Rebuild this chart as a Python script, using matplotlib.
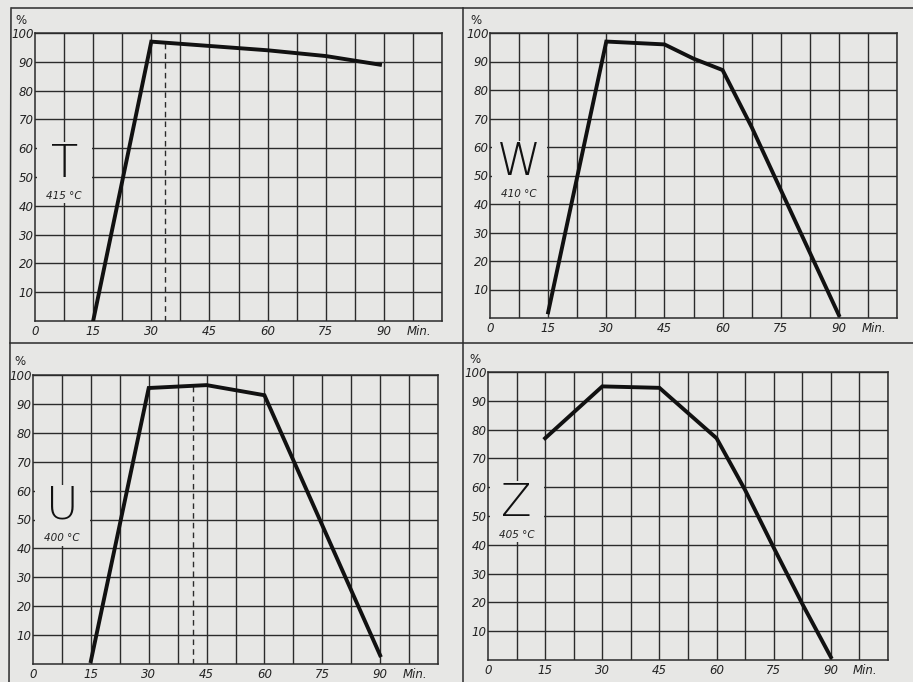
import numpy as np
import matplotlib.pyplot as plt
from matplotlib.patches import Rectangle
from matplotlib.lines import Line2D

# values (minutes -> percent)
t_min = [15, 30, 60, 75, 89]
t_pct = [0, 97, 94, 92, 89]
t_dash = 33.5

w_min = [15, 30, 45, 52.5, 60, 67.5, 75, 82.5, 90]
w_pct = [2, 97, 96, 91, 87, 67, 45, 23, 1]

u_min = [15, 30, 45, 60, 75, 90]
u_pct = [1, 95.5, 96.5, 93, 48, 3]
u_dash = 41.5

z_min = [15, 30, 45, 60, 67.5, 75, 82.5, 90]
z_pct = [77, 95, 94.5, 77, 59, 39, 19.5, 1]

letters = ["T", "W", "U", "Z"]
temps = ["415 °C", "410 °C", "400 °C", "405 °C"]

x_ticks = [0, 15, 30, 45, 60, 75, 90]
y_ticks = [10, 20, 30, 40, 50, 60, 70, 80, 90, 100]

W_PX, H_PX = 913, 682
BG = "#e7e7e5"
INK = "#2b2b2b"


def rect(l, r, t, b):
    return [l / W_PX, 1 - b / H_PX, (r - l) / W_PX, (b - t) / H_PX]


panels = [
    (rect(35, 442, 33, 321), t_min, t_pct, t_dash),
    (rect(490, 897, 33, 318), w_min, w_pct, None),
    (rect(33, 438, 375, 664), u_min, u_pct, u_dash),
    (rect(488, 888, 372, 660), z_min, z_pct, None),
]

fig = plt.figure(figsize=(W_PX / 100, H_PX / 100), dpi=100, facecolor=BG)

for i, (pos, xs, ys, dash) in enumerate(panels):
    ax = fig.add_axes(pos)
    ax.set_facecolor(BG)
    ax.set_xlim(0, 105)
    ax.set_ylim(0, 100)

    # square grid: 7.5 min by 10 %
    for gx in np.arange(7.5, 105.1, 7.5):
        ax.axvline(gx, color=INK, lw=1.0, zorder=1)
    for gy in y_ticks:
        ax.axhline(gy, color=INK, lw=1.0, zorder=1)

    # blank patch behind the panel letter
    ax.add_patch(Rectangle((0.4, 41), 14.3, 21, facecolor=BG, edgecolor="none", zorder=2))
    ax.text(7.5, 54.5, letters[i], ha="center", va="center", fontsize=32,
            fontweight="light", color="#111111", zorder=3)
    ax.text(7.5, 43.5, temps[i], ha="center", va="center", fontsize=7.5,
            style="italic", color="#222222", zorder=3)

    if dash is not None:
        ax.plot([dash, dash], [0, np.interp(dash, xs, ys)], color=INK,
                lw=1.0, ls=(0, (4, 3)), zorder=2)

    ax.plot(xs, ys, color="#111111", lw=2.8, solid_joinstyle="miter", zorder=4)

    for s in ax.spines.values():
        s.set_color(INK)
        s.set_linewidth(1.1)

    ax.set_xticks(x_ticks + [99])
    ax.set_xticklabels([str(v) for v in x_ticks] + ["Min."], style="italic",
                       fontsize=8.5, color="#222222")
    ax.set_yticks(y_ticks)
    ax.set_yticklabels([str(v) for v in y_ticks], style="italic", fontsize=8.5, color="#222222")
    ax.tick_params(length=0, pad=3)
    ax.tick_params(axis="y", pad=1)
    ax.text(-3.5, 104.5, "%", ha="center", va="center", fontsize=8.5, color="#222222")

# frame lines of the printed sheet
frame = [
    ((12, 913), (8, 8)),
    ((11, 9), (8, 682)),
    ((463, 463), (8, 682)),
    ((10, 913), (343, 343)),
]
for (xa, xb), (ya, yb) in frame:
    fig.add_artist(Line2D([xa / W_PX, xb / W_PX], [1 - ya / H_PX, 1 - yb / H_PX],
                          transform=fig.transFigure, color=INK, lw=1.1))

fig.savefig("out.png", dpi=100, facecolor=BG)
